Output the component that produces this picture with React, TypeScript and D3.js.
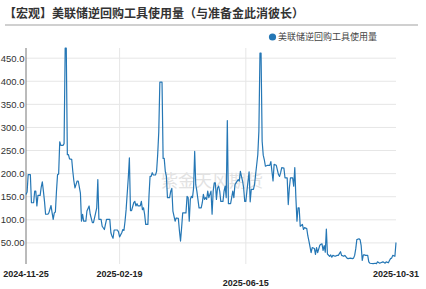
import React from "react";
import * as d3 from "d3";

const title = "【宏观】美联储逆回购工具使用量（与准备金此消彼长）";
const seriesName = "美联储逆回购工具使用量";
const watermark = "紫金天风期货";

const dates = [
  "2024-11-25","2024-11-26","2024-11-27","2024-11-29","2024-11-30","2024-12-02","2024-12-03","2024-12-04","2024-12-05","2024-12-06",
  "2024-12-08","2024-12-09","2024-12-10","2024-12-11","2024-12-12","2024-12-13","2024-12-15","2024-12-16","2024-12-18","2024-12-19",
  "2024-12-20","2024-12-21","2024-12-22","2024-12-23","2024-12-24","2024-12-25","2024-12-26","2024-12-27","2024-12-29","2024-12-30",
  "2024-12-31","2025-01-01","2025-01-02","2025-01-03","2025-01-04","2025-01-06","2025-01-07","2025-01-08","2025-01-09","2025-01-11",
  "2025-01-12","2025-01-14","2025-01-15","2025-01-16","2025-01-17","2025-01-19","2025-01-20","2025-01-22","2025-01-23","2025-01-25",
  "2025-01-26","2025-01-28","2025-01-29","2025-01-30","2025-01-31","2025-02-02","2025-02-03","2025-02-05","2025-02-06","2025-02-07",
  "2025-02-10","2025-02-11","2025-02-12","2025-02-13","2025-02-14","2025-02-17","2025-02-18","2025-02-19","2025-02-21","2025-02-22",
  "2025-02-23","2025-02-24","2025-02-25","2025-02-27","2025-02-28","2025-03-01","2025-03-02","2025-03-04","2025-03-05","2025-03-06",
  "2025-03-07","2025-03-08","2025-03-10","2025-03-11","2025-03-12","2025-03-13","2025-03-14","2025-03-15","2025-03-17","2025-03-18",
  "2025-03-19","2025-03-20","2025-03-21","2025-03-22","2025-03-24","2025-03-25","2025-03-26","2025-03-27","2025-03-28","2025-03-30",
  "2025-03-31","2025-04-01","2025-04-02","2025-04-03","2025-04-04","2025-04-06","2025-04-07","2025-04-08","2025-04-09","2025-04-11",
  "2025-04-12","2025-04-14","2025-04-15","2025-04-16","2025-04-17","2025-04-18","2025-04-21","2025-04-22","2025-04-23","2025-04-24",
  "2025-04-25","2025-04-26","2025-04-27","2025-04-28","2025-04-29","2025-04-30","2025-05-01","2025-05-03","2025-05-05","2025-05-06",
  "2025-05-07","2025-05-08","2025-05-09","2025-05-10","2025-05-11","2025-05-12","2025-05-14","2025-05-15","2025-05-16","2025-05-17",
  "2025-05-18","2025-05-19","2025-05-20","2025-05-21","2025-05-22","2025-05-23","2025-05-25","2025-05-26","2025-05-27","2025-05-28",
  "2025-05-29","2025-05-30","2025-06-01","2025-06-02","2025-06-03","2025-06-04","2025-06-05","2025-06-06","2025-06-08","2025-06-09",
  "2025-06-10","2025-06-11","2025-06-12","2025-06-13","2025-06-14","2025-06-15","2025-06-16","2025-06-18","2025-06-19","2025-06-20",
  "2025-06-22","2025-06-23","2025-06-24","2025-06-26","2025-06-27","2025-06-28","2025-06-29","2025-06-30","2025-07-01","2025-07-02",
  "2025-07-03","2025-07-05","2025-07-07","2025-07-08","2025-07-09","2025-07-10","2025-07-11","2025-07-13","2025-07-15","2025-07-16",
  "2025-07-17","2025-07-18","2025-07-20","2025-07-21","2025-07-23","2025-07-24","2025-07-25","2025-07-26","2025-07-28","2025-07-29",
  "2025-07-30","2025-07-31","2025-08-01","2025-08-02","2025-08-03","2025-08-04","2025-08-06","2025-08-07","2025-08-08","2025-08-10",
  "2025-08-11","2025-08-12","2025-08-14","2025-08-15","2025-08-17","2025-08-18","2025-08-19","2025-08-20","2025-08-22","2025-08-23",
  "2025-08-24","2025-08-25","2025-08-26","2025-08-27","2025-08-28","2025-08-29","2025-08-31","2025-09-01","2025-09-02","2025-09-03",
  "2025-09-05","2025-09-07","2025-09-08","2025-09-10","2025-09-11","2025-09-13","2025-09-14","2025-09-16","2025-09-17","2025-09-19",
  "2025-09-21","2025-09-22","2025-09-23","2025-09-24","2025-09-25","2025-09-27","2025-09-28","2025-09-29","2025-09-30","2025-10-01",
  "2025-10-02","2025-10-03","2025-10-05","2025-10-06","2025-10-07","2025-10-10","2025-10-12","2025-10-13","2025-10-14","2025-10-16",
  "2025-10-17","2025-10-19","2025-10-21","2025-10-22","2025-10-24","2025-10-25","2025-10-26","2025-10-27","2025-10-28","2025-10-30",
  "2025-10-31"
];

const values = [
  155,160,198,198,137,137,162,162,130,153,
  153,171,182,162,140,112,112,115,131,115,
  101,115,117,162,198,199,269,261,261,265,
  472,472,241,241,232,231,205,184,169,184,
  184,158,97,112,97,97,119,130,112,94,
  94,115,126,187,101,101,86,79,90,101,
  101,72,65,60,78,78,74,63,72,79,
  77,97,122,191,234,120,120,137,140,130,
  135,130,130,140,122,126,112,90,90,151,
  194,194,202,197,197,205,241,290,398,398,
  233,233,205,194,148,148,162,168,119,97,
  104,103,76,54,83,115,115,151,148,97,
  144,151,148,169,248,176,162,126,126,137,
  155,144,148,144,162,148,162,112,162,180,
  180,144,169,173,162,140,140,162,173,148,
  315,135,135,148,162,148,176,180,187,184,
  205,194,184,169,140,140,162,204,139,166,
  166,176,198,241,292,461,461,270,240,230,
  216,218,218,226,205,184,220,218,198,194,
  202,213,212,191,191,133,169,191,191,173,
  213,148,97,126,126,86,90,79,83,81,
  65,54,29,40,38,25,40,29,45,47,
  48,34,44,30,80,26,21,24,19,23,
  21,23,23,31,23,21,23,17,16,17,
  16,17,23,37,57,59,57,44,12,24,
  24,23,23,9,6,5,6,5,9,6,
  7,9,6,9,7,12,16,17,23,21,
  51
];

const yTicks = [50, 100, 150, 200, 250, 300, 350, 400, 450];
const xTickLabels = ["2024-11-25", "2025-02-19", "2025-06-15", "2025-10-31"];

const W = 426;
const H = 289;
const left = 26;
const right = 396;
const top = 48;
const bottom = 266;
const lineColor = "#2577b5";
const font = "'Liberation Sans', Arial, sans-serif";
const cjk = "'Noto Sans CJK SC', 'Noto Sans', sans-serif";

export default function App() {
  const parse = d3.timeParse("%Y-%m-%d");
  const pts = dates.map((d, i) => ({ d: parse(d) as Date, v: values[i] }));
  const x = d3
    .scaleTime()
    .domain([parse(xTickLabels[0]) as Date, parse(xTickLabels[3]) as Date])
    .range([left, right]);
  const yMax = d3.max(values) as number;
  const y = d3.scaleLinear().domain([0, yMax]).range([bottom, top]);
  const line = d3
    .line<{ d: Date; v: number }>()
    .x((p) => x(p.d))
    .y((p) => y(p.v));
  const fmt = (v: number) => (v < 100 ? v.toFixed(2) : v.toFixed(1));

  return (
    <svg
      width={W}
      height={H}
      style={{ position: "absolute", left: 0, top: 0, background: "#fff" }}
    >
      <text x={4} y={17.5} fontFamily={cjk} fontSize={12} fontWeight="bold" fill="#333">
        {title}
      </text>
      <line x1={5} x2={418} y1={25} y2={25} stroke="#d0d0d0" strokeWidth={2} />

      {/* legend */}
      <circle cx={272.5} cy={37} r={3.6} fill={lineColor} />
      <text x={278} y={40.3} fontFamily={cjk} fontSize={9} fill="#444">
        {seriesName}
      </text>

      {/* horizontal grid */}
      {yTicks.map((t) => (
        <line key={t} x1={left} x2={right} y1={y(t)} y2={y(t)} stroke="#e6e6e6" strokeWidth={1} />
      ))}
      {/* vertical grid */}
      {xTickLabels.slice(1, 3).map((t) => {
        const xx = x(parse(t) as Date);
        return <line key={t} x1={xx} x2={xx} y1={top} y2={bottom - 2} stroke="#e6e6e6" strokeWidth={1} />;
      })}

      {/* watermark */}
      <text x={212} y={187} textAnchor="middle" fontFamily="'Noto Sans CJK SC', sans-serif" fontSize={17} fill="#e2e2e2">
        {watermark}
      </text>

      {/* y axis */}
      <line x1={left} x2={left} y1={top} y2={bottom - 2} stroke="#777" strokeWidth={1} />
      {yTicks.map((t) => (
        <text key={t} x={24.5} y={y(t) + 3.5} textAnchor="end" fontFamily={font} fontSize={9.5} fill="#333">
          {fmt(t)}
        </text>
      ))}

      {/* x labels */}
      {xTickLabels.map((t, i) => (
        <text
          key={t}
          x={x(parse(t) as Date)}
          y={i === 2 ? 285.5 : 277.2}
          textAnchor="middle"
          fontFamily={font}
          fontSize={9}
          fontWeight="bold"
          fill="#222"
        >
          {t}
        </text>
      ))}

      <path d={line(pts) ?? ""} fill="none" stroke={lineColor} strokeWidth={1.2} strokeLinejoin="round" />
    </svg>
  );
}
